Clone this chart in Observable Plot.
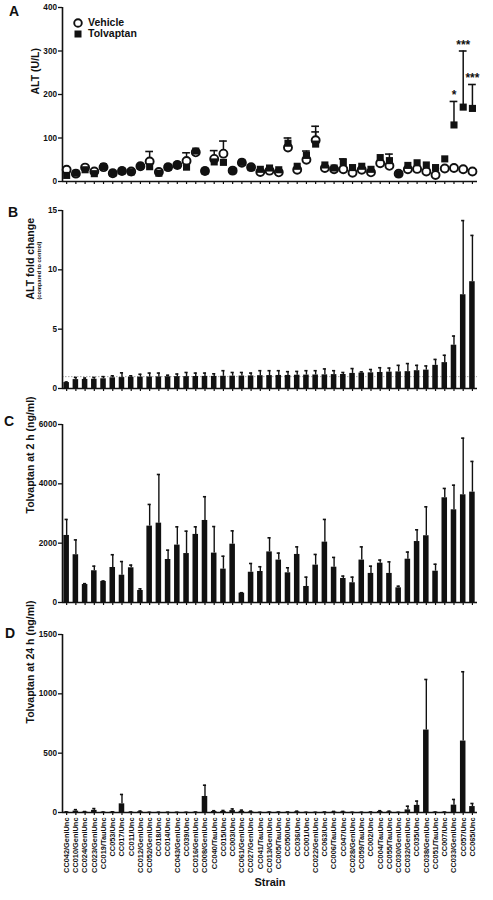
<!DOCTYPE html>
<html>
<head>
<meta charset="utf-8">
<script src="https://cdn.jsdelivr.net/npm/d3@7"></script>
<script src="https://cdn.jsdelivr.net/npm/@observablehq/plot@0.6"></script>
<style>
  body { margin: 0; background: #fff; font-family: "Liberation Sans", Arial, sans-serif; color: #111; }
  #fig { position: relative; width: 493px; height: 900px; overflow: hidden; }
  .panel { position: absolute; left: 0; }
  .letter { position: absolute; font-weight: bold; font-size: 14px; line-height: 1; }
  .legend { position: absolute; left: 73px; top: 17px; font-weight: bold; font-size: 10.5px; line-height: 11px; }
  .legend div { display: flex; align-items: center; height: 11px; }
  .legend svg { margin-right: 5px; }
</style>
</head>
<body>
<div id="fig"></div>
<script>
// Collaborative Cross strains, in the order shown on every panel
const strains = [
  "CC042/GeniUnc", "CC010/GeniUnc", "CC024/GeniUnc", "CC023/GeniUnc", "CC019/TauUnc",
  "CC053/Unc", "CC017/Unc", "CC011/Unc", "CC012/GeniUnc", "CC052/GeniUnc",
  "CC018/Unc", "CC014/Unc", "CC043/GeniUnc", "CC039/Unc", "CC016/GeniUnc",
  "CC008/GeniUnc", "CC040/TauUnc", "CC015/Unc", "CC003/Unc", "CC061/GeniUnc",
  "CC027/GeniUnc", "CC041/TauUnc", "CC013/GeniUnc", "CC005/TauUnc", "CC050/Unc",
  "CC036/Unc", "CC001/Unc", "CC022/GeniUnc", "CC063/Unc", "CC006/TauUnc",
  "CC047/Unc", "CC028/GeniUnc", "CC059/TauUnc", "CC002/Unc", "CC004/TauUnc",
  "CC055/TauUnc", "CC030/GeniUnc", "CC032/GeniUnc", "CC035/Unc", "CC038/GeniUnc",
  "CC051/TauUnc", "CC007/Unc", "CC033/GeniUnc", "CC057/Unc", "CC065/Unc"
];

// A: serum ALT (U/L), mean and SEM per group
const altVehicle = [27, 18, 32, 23, 33, 19, 24, 23, 35, 46, 22, 33, 38, 47, 67, 24, 52, 64, 25, 43,
  33, 22, 25, 21, 78, 27, 50, 95, 31, 28, 28, 20, 27, 21, 42, 36, 18, 28, 29, 23, 15, 30, 31, 28, 23];
const altVehicleSem = [0, 0, 0, 0, 0, 0, 0, 0, 0, 23, 0, 0, 0, 19, 0, 0, 0, 29, 0, 0,
  0, 0, 0, 0, 0, 0, 0, 32, 0, 0, 0, 0, 0, 0, 0, 0, 0, 0, 0, 0, 0, 0, 0, 0, 0];
const altTolvaptan = [14, 19, 27, 18, 34, 19, 24, 22, 35, 34, 19, 33, 38, 33, 70, 24, 45, 44, 25, 44,
  32, 28, 31, 27, 88, 35, 60, 86, 38, 31, 44, 32, 35, 28, 55, 48, 18, 37, 43, 38, 32, 52, 130, 171, 168];
const altTolvaptanSem = [0, 0, 0, 0, 0, 0, 0, 0, 0, 0, 0, 0, 0, 0, 0, 0, 26, 0, 0, 0,
  0, 0, 0, 0, 12, 0, 10, 28, 0, 0, 8, 0, 0, 0, 0, 15, 0, 0, 0, 0, 0, 0, 54, 129, 55];
const altSignificance = ["", "", "", "", "", "", "", "", "", "", "", "", "", "", "", "", "", "", "", "",
  "", "", "", "", "", "", "", "", "", "", "", "", "", "", "", "", "", "", "", "", "", "", "*", "***", "***"];

// B: ALT fold change (tolvaptan / vehicle)
const foldChange = [0.5, 0.75, 0.76, 0.78, 0.82, 0.9, 0.92, 0.95, 0.96, 0.97, 0.98, 0.99, 1.0, 1.0, 1.01,
  1.02, 1.02, 1.03, 1.04, 1.05, 1.06, 1.08, 1.09, 1.1, 1.1, 1.12, 1.13, 1.14, 1.15, 1.17,
  1.18, 1.27, 1.3, 1.32, 1.35, 1.38, 1.4, 1.42, 1.5, 1.55, 1.95, 2.18, 3.65, 7.9, 9.0];
const foldSem = [0.05, 0.18, 0.12, 0.15, 0.18, 0.17, 0.4, 0.12, 0.24, 0.33, 0.32, 0.13, 0.22, 0.35, 0.29,
  0.28, 0.22, 0.47, 0.31, 0.3, 0.24, 0.42, 0.41, 0.4, 0.32, 0.32, 0.37, 0.36, 0.5, 0.33,
  0.17, 0.41, 0.1, 0.28, 0.4, 0.34, 0.55, 0.68, 0.45, 0.35, 0.5, 0.62, 0.77, 6.25, 3.9];

// C: plasma tolvaptan 2 h after dosing (ng/ml)
const tolv2h = [2260, 1610, 605, 1070, 710, 1180, 920, 1170, 405, 2575, 2675, 1450, 1935, 1650, 2295,
  2765, 1665, 1125, 1965, 315, 1020, 1045, 1705, 1430, 1000, 1620, 540, 1260, 2035, 1190,
  810, 665, 1430, 980, 1325, 980, 495, 1460, 2055, 2250, 1055, 3530, 3125, 3630, 3720];
const tolv2hSem = [540, 500, 30, 155, 15, 430, 460, 90, 55, 730, 1640, 315, 615, 755, 255,
  800, 895, 435, 450, 15, 295, 160, 475, 235, 170, 255, 315, 360, 765, 330,
  80, 190, 445, 245, 105, 390, 55, 240, 395, 975, 235, 315, 830, 1910, 1035];

// D: plasma tolvaptan 24 h after dosing (ng/ml)
const tolv24h = [3, 12, 4, 18, 2, 3, 73, 2, 6, 1, 1, 1, 1, 1, 2,
  135, 8, 9, 16, 10, 5, 1, 2, 2, 2, 5, 1, 1, 2, 4,
  4, 1, 1, 2, 8, 5, 1, 22, 60, 695, 2, 2, 62, 602, 50];
const tolv24hSem = [3, 12, 4, 15, 2, 3, 79, 2, 6, 1, 1, 1, 1, 1, 2,
  95, 7, 8, 14, 10, 6, 1, 2, 2, 2, 6, 1, 1, 2, 5,
  5, 1, 1, 2, 7, 6, 1, 31, 36, 426, 2, 2, 48, 584, 26];

// Y axis ticks per panel
const ticksA = [0, 100, 200, 300, 400];
const ticksB = [0, 5, 10, 15];
const ticksC = [0, 2000, 4000, 6000];
const ticksD = [0, 500, 1000, 1500];

const rows = strains.map((strain, k) => ({
  i: k + 1, strain,
  veh: altVehicle[k], vehSem: altVehicleSem[k],
  tol: altTolvaptan[k], tolSem: altTolvaptanSem[k], sig: altSignificance[k],
  fold: foldChange[k], foldSem: foldSem[k],
  c2: tolv2h[k], c2Sem: tolv2hSem[k],
  c24: tolv24h[k], c24Sem: tolv24hSem[k]
}));
const idx = rows.map(d => d.i);
const FONT = "Liberation Sans, Arial, Helvetica, sans-serif";

function panel({top, height, marginTop, marginBottom, yDomain, yTicks, marks, strainLabels}) {
  const svg = Plot.plot({
    width: 493, height, marginLeft: 62, marginRight: 16, marginTop, marginBottom,
    style: {fontFamily: FONT, fontWeight: "bold", fontSize: "8px", color: "#111", background: "transparent", overflow: "visible"},
    x: {domain: [0.55, 45.55], axis: null},
    y: {domain: yDomain, axis: null},
    marks: [
      Plot.axisY({ticks: yTicks, tickSize: 4, tickPadding: 1.5, tickFormat: d => String(d), label: null, fontSize: 8.2, fontWeight: "bold", strokeWidth: 1.3}),
      strainLabels
        ? Plot.axisX({ticks: idx, tickSize: 3, tickPadding: 2, tickRotate: -90, tickFormat: i => strains[i - 1], label: null, fontSize: 7.4, fontWeight: "bold", strokeWidth: 1.2})
        : Plot.axisX({ticks: idx, tickSize: 3, tickFormat: () => "", label: null, strokeWidth: 1.2}),
      ...marks,
      Plot.ruleY([yDomain[0]], {stroke: "#111", strokeWidth: 1.6}),
      Plot.ruleX([0.55], {stroke: "#111", strokeWidth: 1.6})
    ]
  });
  svg.classList.add("panel");
  svg.style.top = top + "px";
  document.getElementById("fig").appendChild(svg);
}

function yTitle(text, dx, size = 10.5) {
  return Plot.text([text], {frameAnchor: "left", rotate: -90, dx, text: d => d, fontSize: size, fontWeight: "bold", fill: "#111"});
}

function barMarks(value, sem) {
  const withErr = rows.filter(d => d[sem] > 0);
  return [
    Plot.ruleX(withErr, {x: "i", y1: value, y2: d => d[value] + d[sem], stroke: "#111", strokeWidth: 1.4}),
    Plot.ruleY(withErr, {y: d => d[value] + d[sem], x1: d => d.i - 0.17, x2: d => d.i + 0.17, stroke: "#111", strokeWidth: 1.6}),
    Plot.rectY(rows, {x1: d => d.i - 0.3, x2: d => d.i + 0.3, y: value, fill: "#111"})
  ];
}

// A: ALT per strain, vehicle (open circles) and tolvaptan (filled squares)
const vehErr = rows.filter(d => d.vehSem > 0);
const tolErr = rows.filter(d => d.tolSem > 0);
panel({
  top: 0, height: 190, marginTop: 7, marginBottom: 9, yDomain: [0, 400], yTicks: ticksA,
  marks: [
    yTitle("ALT (U/L)", -27),
    Plot.ruleX(vehErr, {x: "i", y1: "veh", y2: d => d.veh + d.vehSem, stroke: "#111", strokeWidth: 1.5}),
    Plot.ruleY(vehErr, {y: d => d.veh + d.vehSem, x1: d => d.i - 0.42, x2: d => d.i + 0.42, stroke: "#111", strokeWidth: 1.6}),
    Plot.ruleX(tolErr, {x: "i", y1: "tol", y2: d => d.tol + d.tolSem, stroke: "#111", strokeWidth: 1.5}),
    Plot.ruleY(tolErr, {y: d => d.tol + d.tolSem, x1: d => d.i - 0.42, x2: d => d.i + 0.42, stroke: "#111", strokeWidth: 1.6}),
    Plot.dot(rows, {x: "i", y: "veh", r: 4, symbol: "circle", fill: "#fff", stroke: "#111", strokeWidth: 1.9}),
    Plot.dot(rows, {x: "i", y: "tol", r: 4, symbol: "square", fill: "#111", stroke: "none"}),
    Plot.text(rows.filter(d => d.sig), {x: "i", y: d => d.tol + d.tolSem, text: "sig", dy: -2, lineAnchor: "bottom", fontSize: 12, fontWeight: "bold", fill: "#111"})
  ]
});

// B: fold change of ALT relative to vehicle controls
panel({
  top: 200, height: 197, marginTop: 10, marginBottom: 9, yDomain: [0, 15], yTicks: ticksB,
  marks: [
    yTitle("ALT fold change", -32),
    yTitle("(compared to control)", -23, 5.6),
    Plot.ruleY([1], {stroke: "#999", strokeWidth: 0.9, strokeDasharray: "1.5,1.5"}),
    ...barMarks("fold", "foldSem")
  ]
});

// C: plasma tolvaptan at 2 h
panel({
  top: 414, height: 197, marginTop: 10, marginBottom: 9, yDomain: [0, 6000], yTicks: ticksC,
  marks: [yTitle("Tolvaptan at 2 h (ng/ml)", -32), ...barMarks("c2", "c2Sem")]
});

// D: plasma tolvaptan at 24 h, with strain names on the x axis
panel({
  top: 624, height: 276, marginTop: 10, marginBottom: 88, yDomain: [0, 1500], yTicks: ticksD, strainLabels: true,
  marks: [
    yTitle("Tolvaptan at 24 h (ng/ml)", -32),
    ...barMarks("c24", "c24Sem"),
    Plot.text(["Strain"], {frameAnchor: "bottom", dy: 73, text: d => d, fontSize: 11, fontWeight: "bold", fill: "#111"})
  ]
});

// Panel letters and legend
const fig = document.getElementById("fig");
[["A", 9, 4], ["B", 8, 205], ["C", 4, 414], ["D", 5, 626]].forEach(([t, x, y]) => {
  const el = document.createElement("div");
  el.className = "letter";
  el.textContent = t;
  el.style.left = x + "px";
  el.style.top = y + "px";
  fig.appendChild(el);
});
const legend = document.createElement("div");
legend.className = "legend";
legend.innerHTML =
  '<div><svg width="10" height="10"><circle cx="5" cy="5" r="3.8" fill="#fff" stroke="#111" stroke-width="1.9"/></svg>Vehicle</div>' +
  '<div><svg width="10" height="10"><rect x="1.5" y="1.5" width="7" height="7" fill="#111"/></svg>Tolvaptan</div>';
fig.appendChild(legend);
</script>
</body>
</html>
